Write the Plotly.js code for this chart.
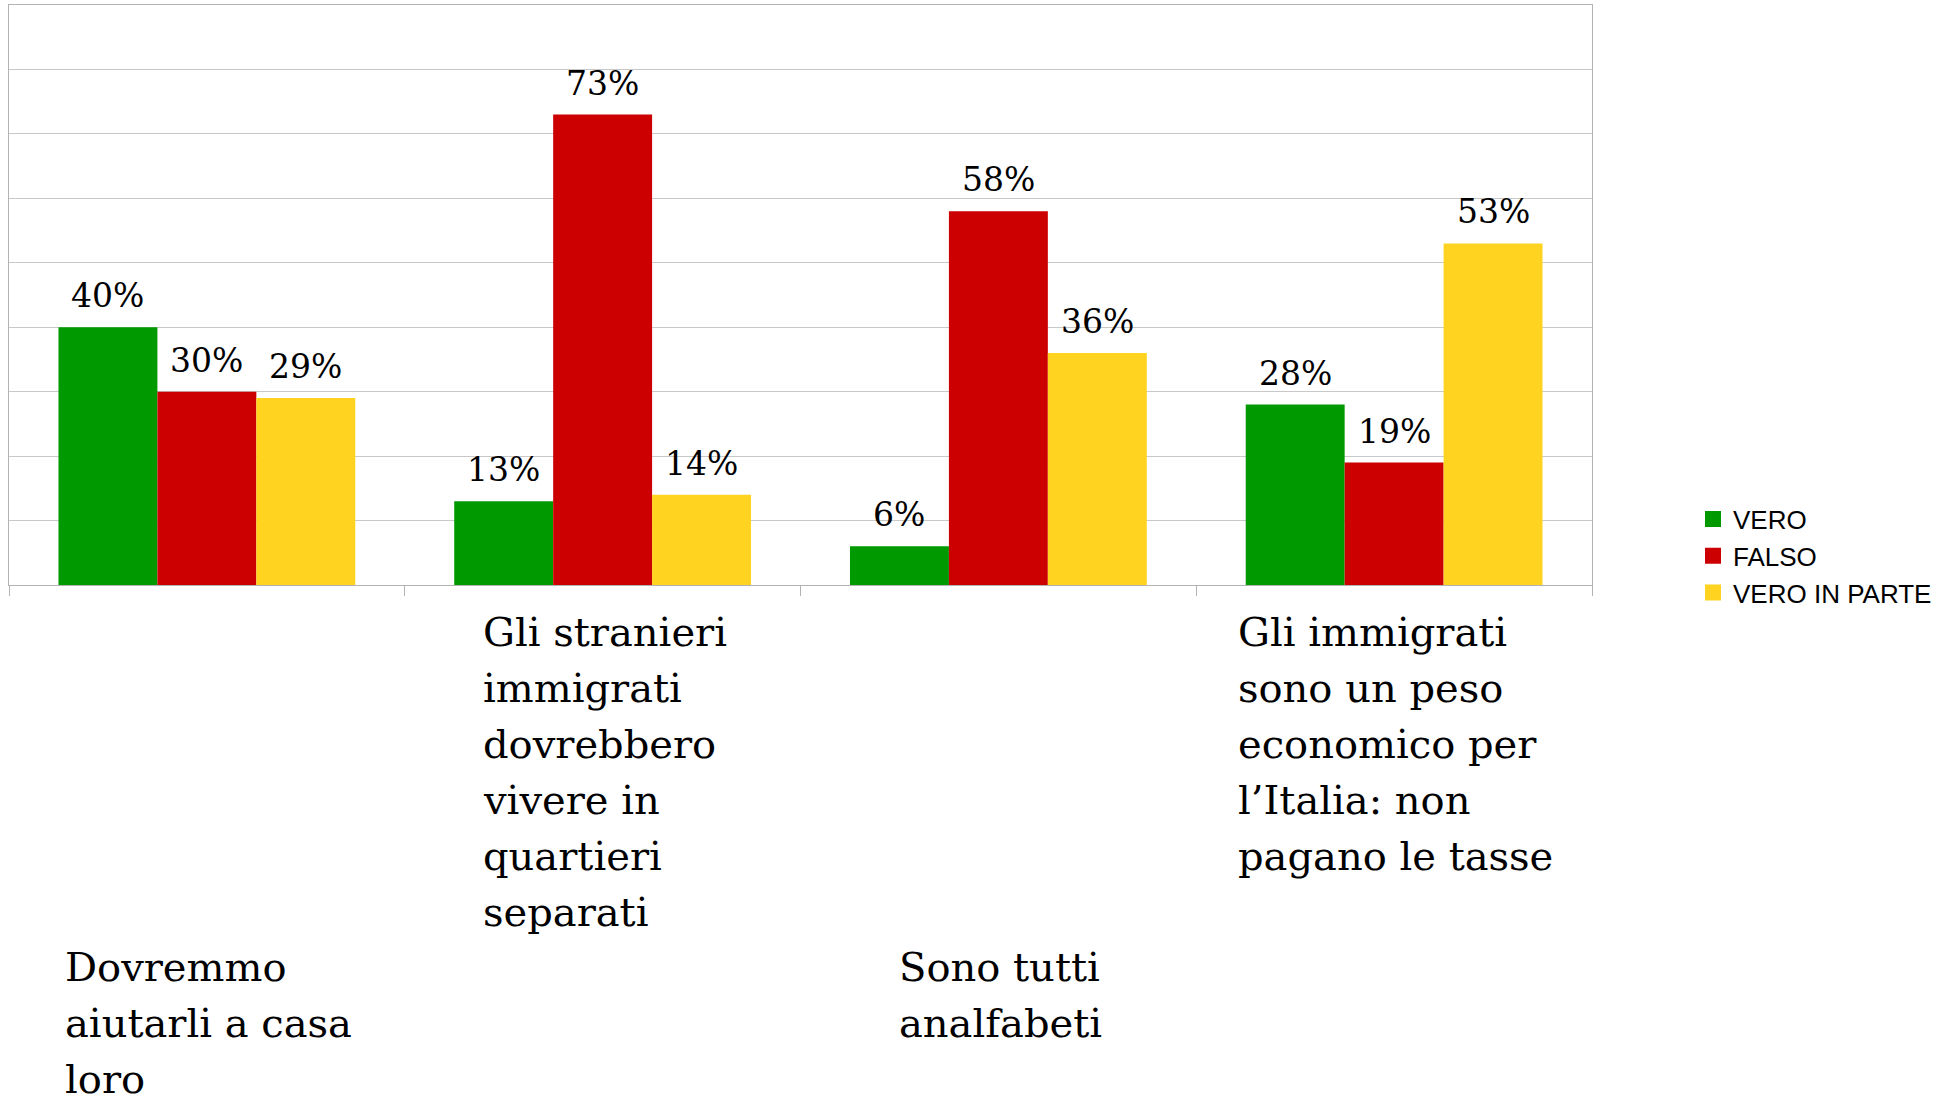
<!DOCTYPE html>
<html>
<head>
<meta charset="utf-8">
<script src="https://cdn.plot.ly/plotly-3.0.1.min.js"></script>
<style>
  html, body { margin: 0; padding: 0; background: #ffffff; }
  #chart { width: 1944px; height: 1097px; }
</style>
</head>
<body>
<div id="chart"></div>
<script>
// ---- data ----
const categories = [
  "Dovremmo<br>aiutarli a casa<br>loro",
  "Gli stranieri<br>immigrati<br>dovrebbero<br>vivere in<br>quartieri<br>separati",
  "Sono tutti<br>analfabeti",
  "Gli immigrati<br>sono un peso<br>economico per<br>l’Italia: non<br>pagano le tasse"
];
const seriesNames = ["VERO", "FALSO", "VERO IN PARTE"];
const vero = [40, 13, 6, 28];
const falso = [30, 73, 58, 19];
const veroInParte = [29, 14, 36, 53];
const seriesValues = [vero, falso, veroInParte];
const seriesColors = ["#009900", "#cc0000", "#ffd320"];

// ---- style constants ----
const serif = '"DejaVu Serif", "Liberation Serif", serif';
const labelSize = 33;
const catSize = 40;
const lineStep = 56;
const W = 1944, H = 1097;
const margin = { l: 9, r: 352, t: 5, b: 512 };
const plotW = W - margin.l - margin.r;
const bargap = 0.25;
const barPx = plotW / categories.length * (1 - bargap) / seriesNames.length;

const traces = [];
seriesNames.forEach((name, i) => {
  traces.push({
    type: "bar",
    name: name,
    x: categories,
    y: seriesValues[i],
    marker: { color: seriesColors[i], line: { width: 0 } },
    showlegend: false,
    hoverinfo: "skip"
  });
});
// legend entries (square swatches)
seriesNames.forEach((name, i) => {
  traces.push({
    type: "scatter",
    mode: "markers",
    name: name,
    legendgroup: name,
    x: [null], y: [null],
    marker: { symbol: "square", size: 16, color: seriesColors[i] },
    showlegend: true,
    hoverinfo: "skip"
  });
});

const annotations = [];
// value labels above bars
seriesValues.forEach((vals, si) => {
  vals.forEach((v, ci) => {
    annotations.push({
      xref: "x", yref: "y",
      x: categories[ci], y: v,
      text: v + "%",
      showarrow: false,
      xanchor: "center", yanchor: "bottom",
      xshift: (si - (seriesNames.length - 1) / 2) * barPx,
      yshift: 10,
      font: { family: serif, size: labelSize, color: "#000000" }
    });
  });
});

// category labels: left-aligned lines inside a block centred on the category
const cv = document.createElement("canvas").getContext("2d");
cv.font = catSize + 'px "DejaVu Serif"';
const topHigh = 47;
const topLow = 382;
categories.forEach((cat, ci) => {
  const lines = cat.split("<br>");
  const maxW = Math.max(...lines.map(l => cv.measureText(l).width));
  const start = (ci % 2 === 0) ? topLow : topHigh;
  lines.forEach((ln, li) => {
    annotations.push({
      xref: "x", yref: "paper",
      x: cat, y: 0,
      text: ln,
      showarrow: false,
      xanchor: "left", yanchor: "middle",
      xshift: -maxW / 2,
      yshift: -(start + li * lineStep),
      font: { family: serif, size: catSize, color: "#000000" },
      align: "left"
    });
  });
});

const layout = {
  width: W, height: H,
  margin: margin,
  paper_bgcolor: "#ffffff",
  plot_bgcolor: "#ffffff",
  barmode: "group",
  bargap: bargap,
  bargroupgap: 0,
  showlegend: true,
  legend: {
    x: (1693 - margin.l) / plotW, xanchor: "left",
    y: 0.05, yanchor: "middle",
    font: { family: '"Liberation Sans", Arial, sans-serif', size: 26, color: "#000000" },
    bgcolor: "rgba(0,0,0,0)",
    traceorder: "normal",
    tracegroupgap: 2,
    itemsizing: "trace"
  },
  xaxis: {
    type: "category",
    showticklabels: false,
    ticks: "outside",
    tickson: "boundaries",
    ticklen: 10,
    tickcolor: "#b3b3b3",
    tickwidth: 1,
    showline: true,
    linecolor: "#b3b3b3",
    linewidth: 1,
    mirror: true,
    showgrid: false,
    fixedrange: true
  },
  yaxis: {
    range: [0, 90],
    dtick: 10,
    showticklabels: false,
    ticks: "",
    showgrid: true,
    gridcolor: "#c8c8c8",
    gridwidth: 1,
    zeroline: false,
    showline: true,
    linecolor: "#b3b3b3",
    linewidth: 1,
    mirror: true,
    fixedrange: true
  },
  annotations: annotations
};

Plotly.newPlot("chart", traces, layout, { displayModeBar: false, staticPlot: true });
</script>
</body>
</html>
